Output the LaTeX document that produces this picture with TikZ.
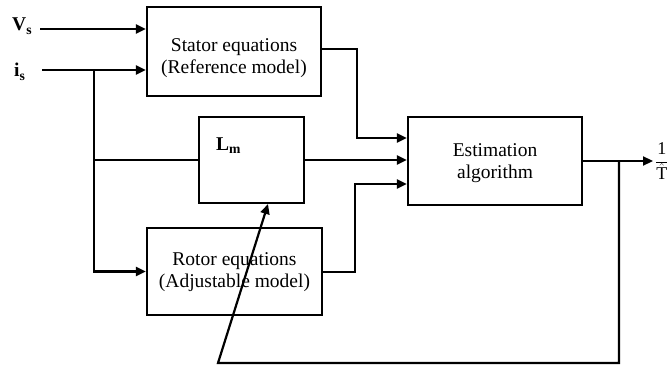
\documentclass[tikz,border=0pt]{standalone}
\usepackage{fontspec}
\setmainfont{Liberation Serif}
\usetikzlibrary{arrows.meta}
\begin{document}
\begin{tikzpicture}[x=1pt,y=-1pt,
  blk/.style={draw, line width=2.2pt, inner sep=0pt},
  ln/.style={line width=2.2pt},
  arr/.style={-{Triangle[length=10pt,width=9pt]}},
  txt/.style={align=center, inner sep=0pt, font=\fontsize{19.5}{21.5}\selectfont},
  lbl/.style={inner sep=0pt, font=\fontsize{19.5}{21}\selectfont\bfseries}]
\useasboundingbox (0,0) rectangle (671,366);

% blocks
\node[blk, minimum width=174pt, minimum height=89pt] (stator) at (234,51.5) {};
\node[blk, minimum width=105pt, minimum height=86pt] (lm) at (251.5,160) {};
\node[blk, minimum width=175pt, minimum height=87pt] (rotor) at (234.5,271.5) {};
\node[blk, minimum width=174pt, minimum height=88pt] (est) at (495,161) {};

% block texts
\node[txt] (statortext) at (234,58) {Stator equations\\(Reference model)};
\node[txt] (rotortext) at (234.5,272) {Rotor equations\\(Adjustable model)};
\node[txt] (esttext) at (495,163) {Estimation\\algorithm};
\node[lbl, anchor=base west] (lmtext) at (216,150) {L\textsubscript{m}};

% input labels
\node[lbl, anchor=base west] (vs) at (12,31) {V\textsubscript{s}};
\node[lbl, anchor=base west] (is) at (14,77) {i\textsubscript{s}};

% helper points
\coordinate (vsstart) at (40,29);
\coordinate (isstart) at (42,70);
\coordinate (br) at (94,70);
\coordinate (sbend) at (357,49);
\coordinate (rbend) at (355,272);
\coordinate (e1) at ([yshift=23pt]est.west);
\coordinate (e3) at ([yshift=-23pt]est.west);
\coordinate (outend) at (653,161);
\coordinate (fbtap) at (619,161);
\coordinate (fbbottom) at (619,363);
\coordinate (fbleft) at (218,363);
\coordinate (lmin) at (268,204);

% inputs
\draw[ln, arr] (vsstart) -- (vsstart -| stator.west);
\draw[ln, arr] (isstart) -- (isstart -| stator.west);
\draw[ln, arr] (br) |- (rotor.west);
\draw[ln] (br |- lm.west) -- (lm.west);

% into the estimator
\draw[ln, arr] (stator.east |- sbend) -- (sbend) |- (e1);
\draw[ln, arr] (lm.east) -- (lm.east -| est.west);
\draw[ln, arr] (rotor.east |- rbend) -- (rbend) |- (e3);

% output and feedback
\draw[ln, arr] (est.east |- outend) -- (outend);
\node[anchor=west, inner sep=0pt, font=\fontsize{18}{20}\selectfont] (tau) at (655,161) {$\displaystyle\frac{\mbox{1}}{\hat{\mbox{T}}}$};
\draw[ln, arr] (fbtap) -- (fbbottom) -- (fbleft) -- (lmin);
\end{tikzpicture}
\end{document}
